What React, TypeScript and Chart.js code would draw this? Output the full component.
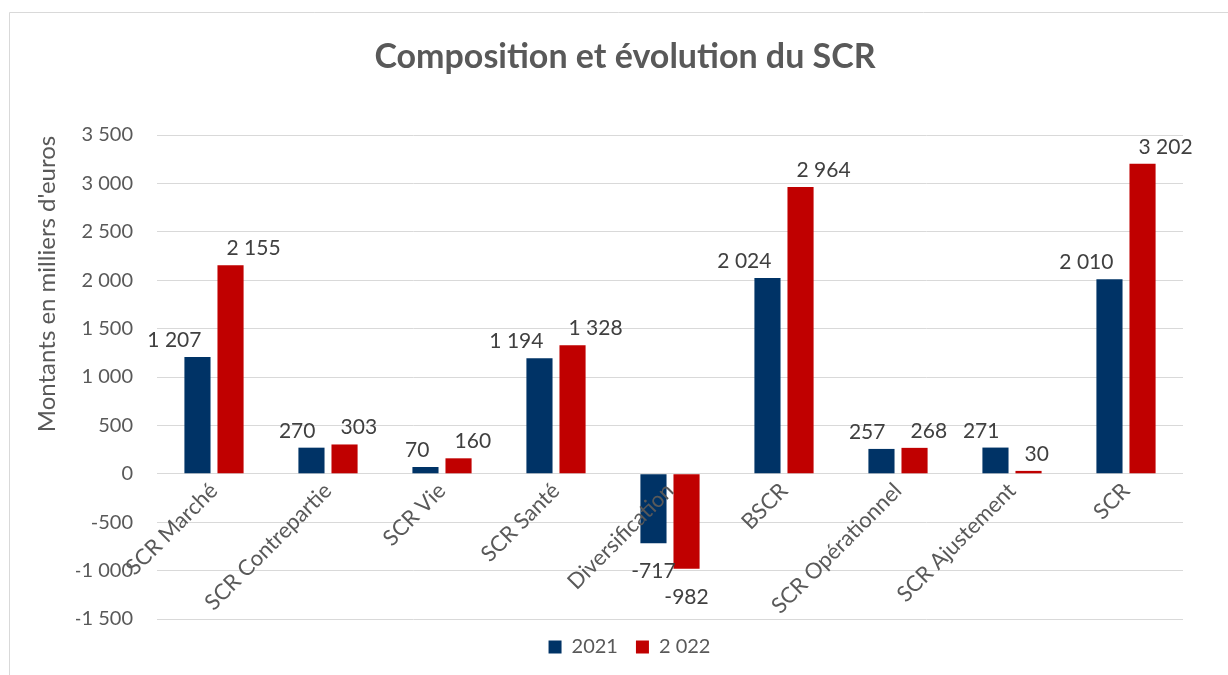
import React, { useEffect, useRef } from "react";
import { Chart, registerables } from "chart.js";

Chart.register(...registerables);

const chartTitle = "Composition et évolution du SCR";
const yAxisTitle = "Montants en milliers d'euros";
const categories = [
  "SCR Marché",
  "SCR Contrepartie",
  "SCR Vie",
  "SCR Santé",
  "Diversification",
  "BSCR",
  "SCR Opérationnel",
  "SCR Ajustement",
  "SCR",
];
const seriesNames = ["2021", "2 022"];
const values2021 = [1207, 270, 70, 1194, -717, 2024, 257, 271, 2010];
const values2022 = [2155, 303, 160, 1328, -982, 2964, 268, 30, 3202];
const yMin = -1500;
const yMax = 3500;
const yStep = 500;

const BLUE = "#003366";
const RED = "#C00000";
const FONT = "Lato";

const fmt = (v: number) => {
  const s = Math.abs(Math.round(v))
    .toString()
    .replace(/\B(?=(\d{3})+(?!\d))/g, " ");
  return (v < 0 ? "-" : "") + s;
};

const decorPlugin = {
  id: "decor",
  beforeDraw(chart: any) {
    const { ctx, width, height } = chart;
    ctx.save();
    ctx.fillStyle = "#ffffff";
    ctx.fillRect(0, 0, width, height);
    ctx.strokeStyle = "#d9d9d9";
    ctx.lineWidth = 1;
    ctx.beginPath();
    ctx.moveTo(9.5, height);
    ctx.lineTo(9.5, 12.5);
    ctx.lineTo(width, 12.5);
    ctx.stroke();
    ctx.restore();
  },
  afterDraw(chart: any) {
    const { ctx } = chart;
    ctx.save();
    // Title
    ctx.fillStyle = "#595959";
    ctx.font = `bold 34px ${FONT}`;
    ctx.textAlign = "center";
    ctx.textBaseline = "middle";
    ctx.fillText(chartTitle, 625, 57);
    // Y axis title
    ctx.translate(47, 284);
    ctx.rotate(-Math.PI / 2);
    ctx.font = `24px ${FONT}`;
    ctx.fillText(yAxisTitle, 0, 0);
    ctx.restore();
  },
  afterDatasetsDraw(chart: any) {
    const { ctx } = chart;
    ctx.save();
    ctx.fillStyle = "#404040";
    ctx.font = `21px ${FONT}`;
    chart.data.datasets.forEach((ds: any, di: number) => {
      const meta = chart.getDatasetMeta(di);
      meta.data.forEach((el: any, i: number) => {
        const v = ds.data[i];
        const txt = fmt(v);
        ctx.textBaseline = "alphabetic";
        if (v >= 0) {
          if (di === 0) {
            ctx.textAlign = "right";
            ctx.fillText(txt, el.x + 4, el.y - 10);
          } else {
            ctx.textAlign = "left";
            ctx.fillText(txt, el.x - 4, el.y - 10);
          }
        } else {
          ctx.textAlign = "center";
          ctx.fillText(txt, el.x, el.y + 35);
        }
      });
    });
    ctx.restore();
  },
};

export default function App() {
  const ref = useRef<HTMLCanvasElement | null>(null);
  useEffect(() => {
    if (!ref.current) return;
    const chart = new Chart(ref.current, {
      type: "bar",
      data: {
        labels: categories,
        datasets: [
          {
            label: seriesNames[0],
            data: values2021,
            backgroundColor: BLUE,
            categoryPercentage: 0.58,
            barPercentage: 0.79,
          },
          {
            label: seriesNames[1],
            data: values2022,
            backgroundColor: RED,
            categoryPercentage: 0.58,
            barPercentage: 0.79,
          },
        ],
      },
      options: {
        animation: false,
        responsive: false,
        maintainAspectRatio: false,
        layout: { padding: { left: 76, right: 45, top: 135, bottom: 8 } },
        plugins: {
          title: { display: false },
          tooltip: { enabled: false },
          legend: {
            display: true,
            position: "bottom",
            labels: {
              boxWidth: 13,
              boxHeight: 13,
              color: "#595959",
              font: { family: FONT, size: 20 },
              padding: 18,
            },
          },
        },
        scales: {
          x: {
            position: { y: 0 } as any,
            grid: { display: false, drawTicks: false },
            border: { display: false },
            ticks: {
              z: 1,
              color: "#595959",
              font: { family: FONT, size: 22 },
              minRotation: 45,
              maxRotation: 45,
              autoSkip: false,
              padding: 4,
            },
          },
          y: {
            min: yMin,
            max: yMax,
            grid: { color: "#d9d9d9", lineWidth: 1, drawTicks: false },
            border: { display: false },
            afterFit: (scale: any) => {
              scale.width = 81;
            },
            ticks: {
              stepSize: yStep,
              color: "#595959",
              font: { family: FONT, size: 20 },
              padding: 24,
              callback: (v: any) => fmt(Number(v)),
            },
          },
        },
      },
      plugins: [decorPlugin],
    });
    return () => chart.destroy();
  }, []);
  return (
    <div style={{ position: "absolute", left: 0, top: 0, width: 1228, height: 675 }}>
      <canvas ref={ref} width={1228} height={675} style={{ width: 1228, height: 675 }} />
    </div>
  );
}
